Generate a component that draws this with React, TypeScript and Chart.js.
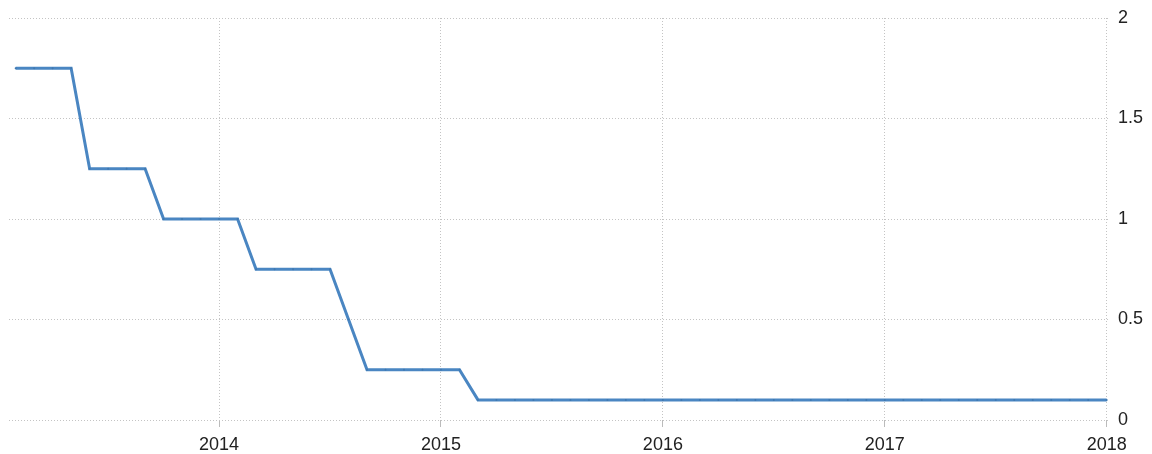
import React, { useEffect, useRef } from "react";
import { Chart, registerables } from "chart.js";

Chart.register(...registerables);

// Monthly observations (month index: Jan 2013 = 0)
const months: string[] = [
  "2013-02", "2013-03", "2013-04", "2013-05", "2013-06", "2013-07", "2013-08", "2013-09", "2013-10", "2013-11", "2013-12",
  "2014-01", "2014-02", "2014-03", "2014-04", "2014-05", "2014-06", "2014-07", "2014-08", "2014-09", "2014-10", "2014-11", "2014-12",
  "2015-01", "2015-02", "2015-03", "2015-04", "2015-05", "2015-06", "2015-07", "2015-08", "2015-09", "2015-10", "2015-11", "2015-12",
  "2016-01", "2016-02", "2016-03", "2016-04", "2016-05", "2016-06", "2016-07", "2016-08", "2016-09", "2016-10", "2016-11", "2016-12",
  "2017-01", "2017-02", "2017-03", "2017-04", "2017-05", "2017-06", "2017-07", "2017-08", "2017-09", "2017-10", "2017-11", "2017-12",
  "2018-01",
];

const rates: number[] = [
  1.75, 1.75, 1.75, 1.75, 1.25, 1.25, 1.25, 1.25, 1.0, 1.0, 1.0,
  1.0, 1.0, 0.75, 0.75, 0.75, 0.75, 0.75, 0.5, 0.25, 0.25, 0.25, 0.25,
  0.25, 0.25, 0.1, 0.1, 0.1, 0.1, 0.1, 0.1, 0.1, 0.1, 0.1, 0.1, 0.1,
  0.1, 0.1, 0.1, 0.1, 0.1, 0.1, 0.1, 0.1, 0.1, 0.1, 0.1, 0.1,
  0.1, 0.1, 0.1, 0.1, 0.1, 0.1, 0.1, 0.1, 0.1, 0.1, 0.1, 0.1,
  0.1,
];

const yearTicks: number[] = [2014, 2015, 2016, 2017, 2018];
const yTicks: number[] = [0, 0.5, 1, 1.5, 2];

const BASE_YEAR = 2013;
const monthIndex = (m: string) => {
  const [y, mo] = m.split("-").map(Number);
  return (y - BASE_YEAR) * 12 + (mo - 1);
};

export default function App() {
  const ref = useRef<HTMLCanvasElement | null>(null);

  useEffect(() => {
    if (!ref.current) return;
    const font = { family: "'Liberation Sans', Arial, sans-serif", size: 18 };
    const chart = new Chart(ref.current, {
      type: "line",
      data: {
        datasets: [
          {
            data: months.map((m, i) => ({ x: monthIndex(m), y: rates[i] })),
            borderColor: "#4a86c2",
            backgroundColor: "#4a86c2",
            borderWidth: 3,
            pointRadius: 1,
            pointBackgroundColor: "#3f78b0",
            pointBorderWidth: 0,
            tension: 0,
            clip: false as any,
          },
        ],
      },
      options: {
        animation: false,
        responsive: false,
        maintainAspectRatio: false,
        layout: { padding: { left: 9, top: 18, right: 0, bottom: 0 } },
        plugins: { legend: { display: false }, tooltip: { enabled: false } },
        scales: {
          x: {
            type: "linear",
            min: 0.64,
            max: 60.07,
            border: { display: false, dash: [1, 2] },
            grid: {
              color: "#c4c4c4",
              drawTicks: true,
              tickLength: 7,
              tickColor: "#bbbbbb",
              tickBorderDash: [],
            } as any,
            afterBuildTicks: (axis: any) => {
              axis.ticks = yearTicks.map((y) => ({ value: (y - BASE_YEAR) * 12 }));
            },
            afterFit: (axis: any) => {
              axis.height = 34;
              axis.paddingLeft = 0;
              axis.paddingRight = 0;
            },
            ticks: {
              autoSkip: false,
              maxRotation: 0,
              padding: 7,
              color: "#222222",
              font,
              callback: (v: any) => String(BASE_YEAR + Math.round(Number(v) / 12)),
            },
          },
          y: {
            position: "right",
            min: 0,
            max: 2,
            border: { display: false, dash: [1, 2] },
            grid: {
              color: "#c4c4c4",
              drawTicks: false,
            } as any,
            afterBuildTicks: (axis: any) => {
              axis.ticks = yTicks.map((v) => ({ value: v }));
            },
            afterFit: (axis: any) => {
              axis.width = 44;
              axis.paddingTop = 0;
              axis.paddingBottom = 0;
            },
            ticks: {
              padding: 10,
              color: "#222222",
              font,
              callback: (v: any) => String(v),
            },
          },
        },
      },
    });
    return () => chart.destroy();
  }, []);

  return (
    <div style={{ position: "fixed", left: 0, top: 0, width: 1152, height: 454, background: "#ffffff" }}>
      <canvas ref={ref} width={1152} height={454} style={{ width: 1152, height: 454, display: "block" }} />
    </div>
  );
}
